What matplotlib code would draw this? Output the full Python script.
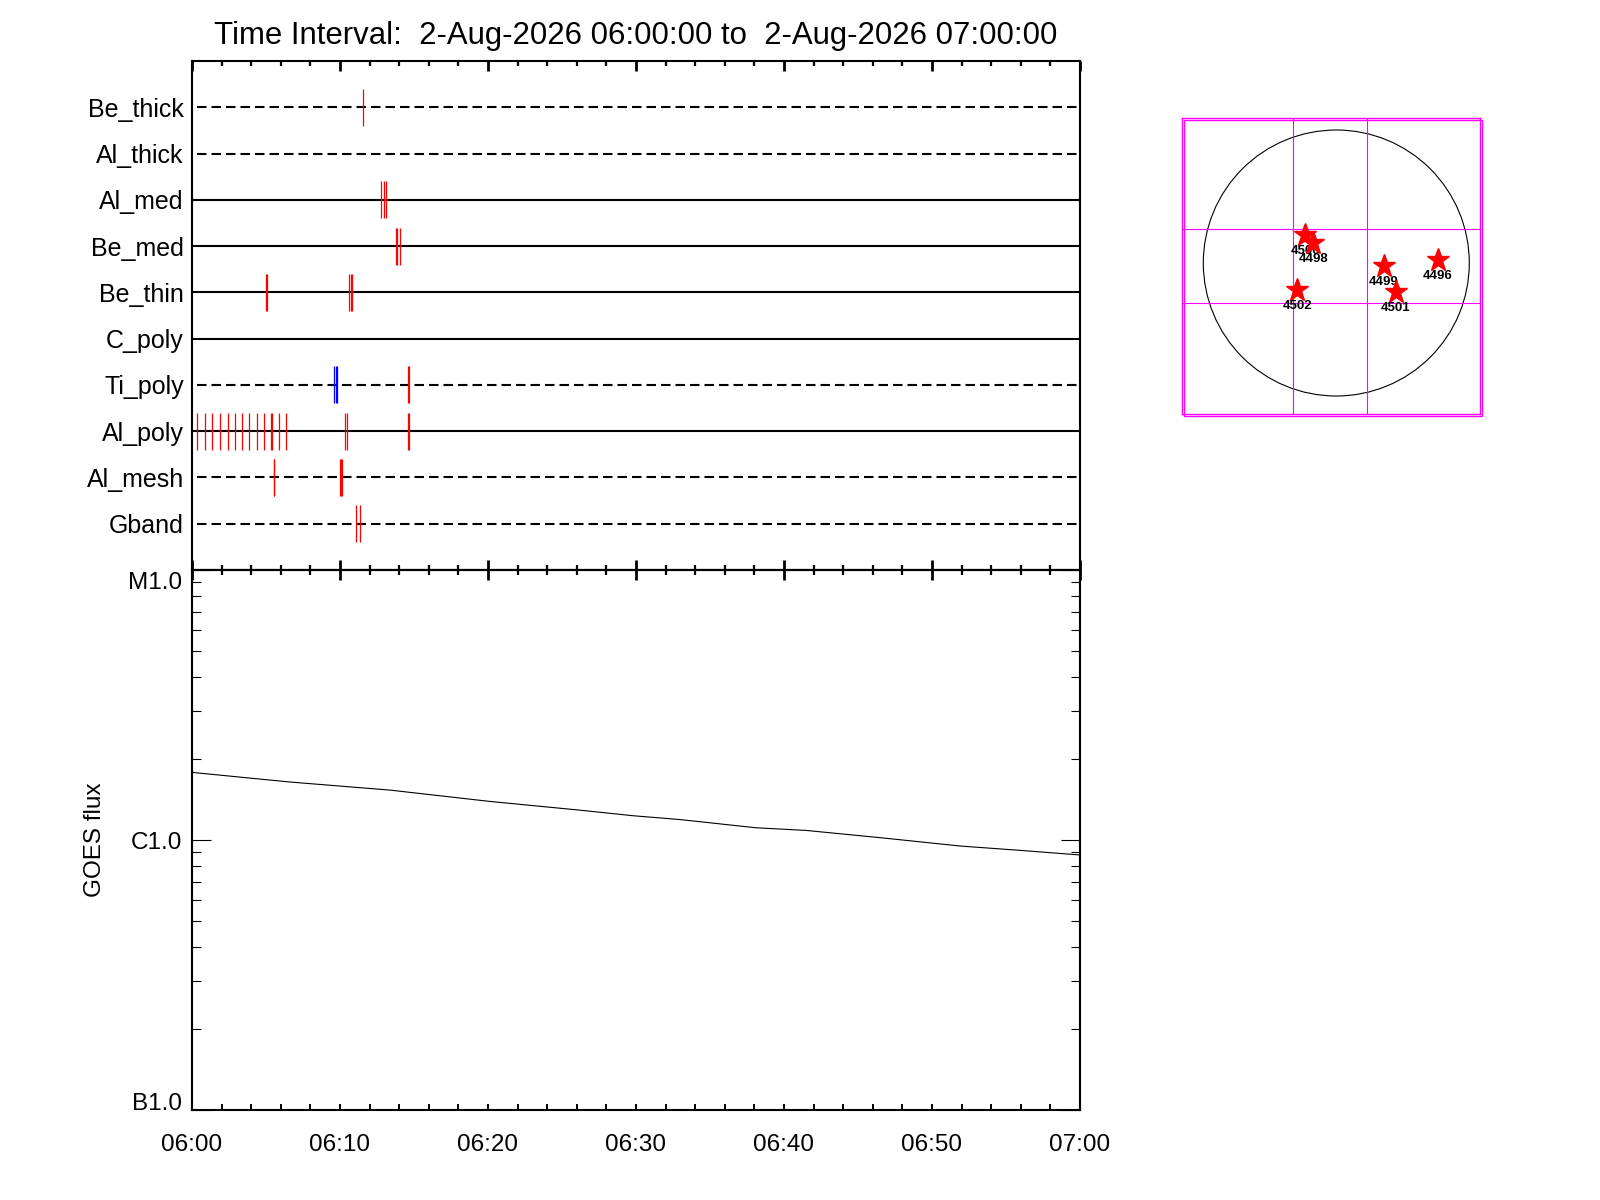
import matplotlib
matplotlib.use("Agg")
import matplotlib.pyplot as plt
import matplotlib.patches as patches
from matplotlib.transforms import offset_copy, blended_transform_factory
from matplotlib.ticker import LogLocator, NullFormatter, MultipleLocator, FixedLocator
import numpy as np

plt.rcParams['font.family'] = ['Liberation Sans', 'DejaVu Sans']

# ---- data ----
title = "Time Interval:  2-Aug-2026 06:00:00 to  2-Aug-2026 07:00:00"

rows = ['Be_thick', 'Al_thick', 'Al_med', 'Be_med', 'Be_thin',
        'C_poly', 'Ti_poly', 'Al_poly', 'Al_mesh', 'Gband']
row_dashed = [True, True, False, False, False, False, True, False, True, True]

# event times in minutes after 06:00, one list per row
events_red = [
    [11.58],
    [],
    [12.79, 12.95, 13.11],
    [13.80, 13.86, 14.05],
    [5.02, 5.08, 10.63, 10.76, 10.82],
    [],
    [14.61, 14.67],
    [0.36, 0.90, 1.37, 1.87, 2.41, 2.88, 3.40, 3.87, 4.37, 4.88,
     5.35, 5.41, 5.90, 6.37, 10.32, 10.45, 14.61, 14.67],
    [5.51, 5.57, 10.02, 10.09, 10.16],
    [11.10, 11.37],
]
events_blue = [[], [], [], [], [], [], [9.57, 9.70, 9.77], [], [], []]

time_ticks = [0, 10, 20, 30, 40, 50, 60]
time_labels = ['06:00', '06:10', '06:20', '06:30', '06:40', '06:50', '07:00']

goes_min = [0, 6.6, 13.4, 20.1, 26.2, 29.8, 33.0, 38.1, 41.5, 46.5, 51.9, 56.0, 60.0]
goes_flux = [1.78e-6, 1.64e-6, 1.53e-6, 1.39e-6, 1.29e-6, 1.23e-6, 1.19e-6,
             1.11e-6, 1.085e-6, 1.02e-6, 0.95e-6, 0.915e-6, 0.88e-6]

flux_ticks = [1e-7, 1e-6, 1e-5]
flux_labels = ['B1.0', 'C1.0', 'M1.0']

# active regions (arcsec from disk centre)
ar_num = ['4496', '4499', '4500', '4498', '4501', '4502']
ar_x = [722, 340, -221, -164, 425, -278]
ar_y = [21, -19, 199, 140, -204, -192]
fov_x = [-306, 221]
fov_y = [-283, 242]
r_sun = 947

fig = plt.figure(figsize=(16, 12), dpi=100)
W, H = 1600., 1200.

# ---- top panel: filter rows ----
ax1 = fig.add_axes([192/W, 1-570/H, 888/W, 509/H])
ax1.set_xlim(0, 60)
ax1.set_ylim(0, 11)
ypos = np.arange(len(rows), 0, -1)
for y, dashed in zip(ypos, row_dashed):
    if dashed:
        ax1.axhline(y, color='k', lw=1.5, ls=(4.56, (4.56, 2.4)))
    else:
        ax1.axhline(y, color='k', lw=1.5)
for y, ev in zip(ypos, events_red):
    if ev:
        ax1.vlines(ev, y-0.4, y+0.4, colors='#ff0000', lw=0.9, zorder=3)
for y, ev in zip(ypos, events_blue):
    if ev:
        ax1.vlines(ev, y-0.4, y+0.4, colors='#0000ff', lw=0.9, zorder=3)
ax1.set_yticks(ypos)
ax1.set_yticklabels(rows, fontsize=18)
ax1.tick_params(axis='y', length=0, pad=5.8)
ax1.xaxis.set_major_locator(MultipleLocator(10))
ax1.xaxis.set_minor_locator(MultipleLocator(2))
ax1.tick_params(axis='x', which='both', direction='in', top=True, bottom=True,
                labelbottom=False, width=1.6)
ax1.tick_params(axis='x', which='major', length=7.2, width=2)
ax1.tick_params(axis='x', which='minor', length=3.6)
for s in ax1.spines.values():
    s.set_linewidth(1.5)
ax1.set_title(title, fontsize=22.4, pad=12.5)

# ---- bottom panel: GOES flux ----
ax2 = fig.add_axes([192/W, 1-1110/H, 888/W, 540/H])
ax2.plot(goes_min, goes_flux, color='k', lw=0.8)
ax2.set_xlim(0, 60)
ax2.set_yscale('log')
ax2.set_ylim(1e-7, 1e-5)
ax2.set_xticks(time_ticks)
ax2.set_xticklabels(time_labels, fontsize=17.5)
ax2.xaxis.set_minor_locator(MultipleLocator(2))
ax2.tick_params(axis='x', which='both', direction='in', top=False, bottom=True,
                length=4, width=1.4, pad=17.5)
top = ax2.secondary_xaxis('top')
top.xaxis.set_major_locator(MultipleLocator(10))
top.xaxis.set_minor_locator(MultipleLocator(2))
top.tick_params(axis='x', which='both', direction='in', labeltop=False, width=1.6)
top.tick_params(axis='x', which='major', length=7.2, width=2)
top.tick_params(axis='x', which='minor', length=3.6)
top.spines['top'].set_linewidth(1.5)

ax2.yaxis.set_major_locator(FixedLocator(flux_ticks))
ax2.yaxis.set_minor_locator(LogLocator(base=10, subs=np.arange(2, 10)))
ax2.yaxis.set_minor_formatter(NullFormatter())
ax2.set_yticklabels([])
ax2.tick_params(axis='y', which='both', direction='in', left=True, right=True, width=0.8)
ax2.tick_params(axis='y', which='major', length=13.5)
ax2.tick_params(axis='y', which='minor', length=6.5)
for s in ax2.spines.values():
    s.set_linewidth(1.5)
# flux class labels, nudged inside the panel like the original
lab_trans = blended_transform_factory(ax2.transAxes, ax2.transData)
nudges = [6, -3, -13]
for v, lab, dy in zip(flux_ticks, flux_labels, nudges):
    ax2.text(-0.0113, v, lab, fontsize=17.5, ha='right', va='center',
             transform=offset_copy(lab_trans, fig=fig, y=dy, units='dots'))
ax2.set_ylabel('GOES flux', fontsize=17.5)
ax2.yaxis.set_label_coords(-0.0966, 0.5)

# ---- solar disk with active regions ----
ax3 = fig.add_axes([1182.3/W, 1-414/H, 297.7/W, 295.7/H])
ax3.set_xlim(-1096.5, 1023.2)
ax3.set_ylim(-1075.1, 1030.3)
ax3.set_xticks([])
ax3.set_yticks([])
for s in ax3.spines.values():
    s.set_color('#ff00ff')
    s.set_linewidth(1.0)
ax3.add_patch(patches.Rectangle((-1082.3, -1087.2), 2119.7, 2105.4, fill=False,
                                ec='#ff00ff', lw=1.0, clip_on=False))
ax3.add_patch(patches.Circle((0, 0), r_sun, fill=False, ec='k', lw=0.8))
for v in fov_x:
    ax3.axvline(v, color='#ff00ff', lw=0.8)
for v in fov_y:
    ax3.axhline(v, color='#ff00ff', lw=0.8)
for i, (num, x, y) in enumerate(zip(ar_num, ar_x, ar_y)):
    ax3.plot(x, y, marker='*', color='#ff0000', ms=17, mec='#ff0000', zorder=5+2*i)
    ax3.annotate(num, (x, y), xytext=(0, -16), textcoords='offset pixels',
                 ha='center', va='center', fontsize=9.5, fontweight='bold',
                 zorder=6+2*i)

fig.savefig('out.png', dpi=100)
plt.close(fig)
